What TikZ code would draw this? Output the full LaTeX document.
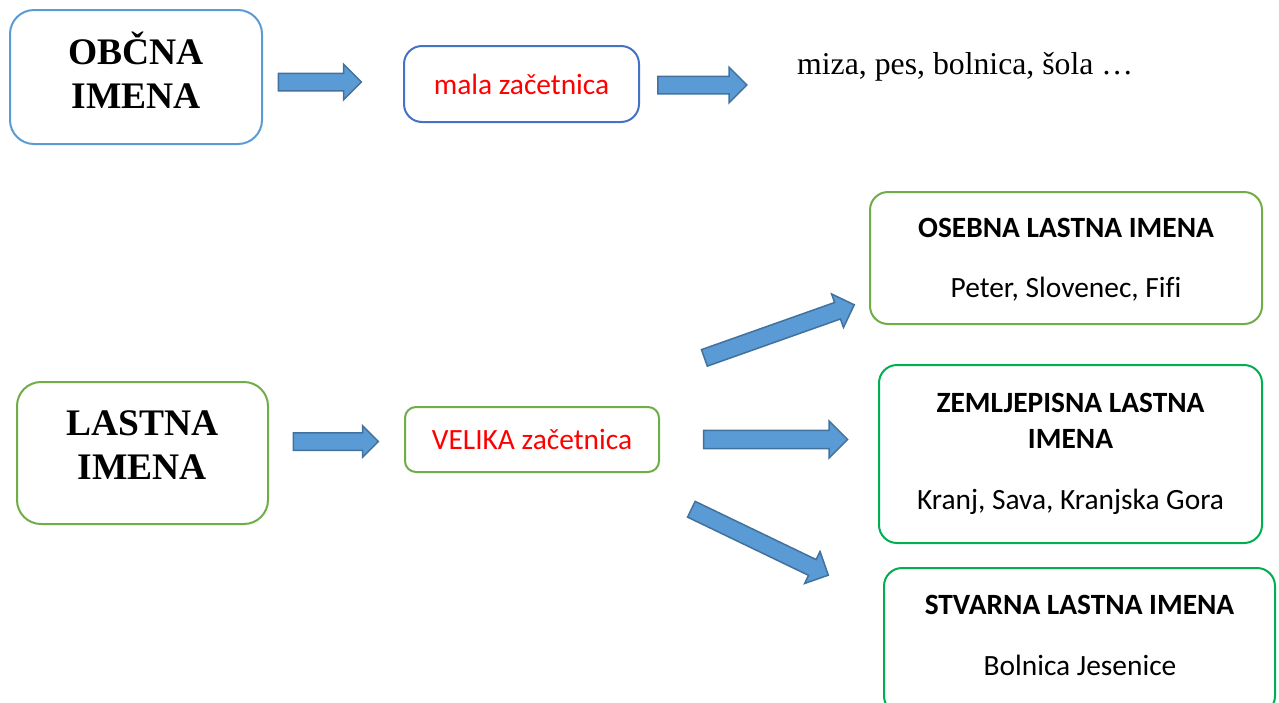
\documentclass[tikz,border=0pt]{standalone}
\usepackage{fontspec}
\setmainfont{Liberation Serif}
\newfontfamily\calfont[Ligatures=NoCommon]{Carlito}
\usetikzlibrary{shapes.arrows}
\definecolor{boxblue}{HTML}{5B9BD5}
\definecolor{darkblue}{HTML}{4472C4}
\definecolor{olive}{HTML}{70AD47}
\definecolor{brightgreen}{HTML}{00B050}
\definecolor{arrowfill}{HTML}{5B9BD5}
\definecolor{arrowline}{HTML}{41719C}
\tikzset{
  bigbox/.style={draw, line width=2pt, rounded corners=24pt, fill=white},
  midbox/.style={draw, line width=2pt, rounded corners=18pt, fill=white},
  smallbox/.style={draw, line width=2pt, rounded corners=11pt, fill=white},
  bigtext/.style={font=\fontsize{37.5}{44}\selectfont\bfseries, align=center, inner sep=0pt},
  redtext/.style={font=\calfont\fontsize{29.4}{34}\selectfont, text=red, inner sep=0pt},
  titletext/.style={font=\calfont\fontsize{29.4}{36}\selectfont\bfseries, align=center, inner sep=0pt},
  subtext/.style={font=\calfont\fontsize{29.4}{36}\selectfont, inner sep=0pt},
  blockarrow/.style={single arrow, draw=arrowline, fill=arrowfill, line width=1.5pt,
    inner sep=8pt, single arrow head extend=9pt, single arrow tip angle=90,
    minimum width=35pt, anchor=center}
}
\begin{document}
\begin{tikzpicture}[x=1pt,y=-1pt]
\useasboundingbox (0,0) rectangle (1279,702);
% boxes
\node[bigbox, draw=boxblue, minimum width=252pt, minimum height=134pt] (obcna) at (136,77) {};
\node[bigtext] (obcnat) at (136,70.5) {OBČNA\\IMENA};
\node[midbox, draw=darkblue, minimum width=235pt, minimum height=76pt, redtext] (mala) at (521.5,84) {mala začetnica};
\node[anchor=west, font=\fontsize{31.75}{36}\selectfont, inner sep=0pt] (primeri) at (797,67) {miza, pes, bolnica, šola \ldots};

\node[bigbox, draw=olive, minimum width=251pt, minimum height=142pt] (lastna) at (142.5,453) {};
\node[bigtext] (lastnat) at (142.5,445.5) {LASTNA\\IMENA};
\node[smallbox, draw=olive, minimum width=254pt, minimum height=65pt, redtext] (velika) at (532,439.5) {VELIKA začetnica};

\node[midbox, draw=olive, minimum width=392pt, minimum height=132pt] (osebna) at (1066,258) {};
\node[titletext] (osebnat) at (1066,228) {OSEBNA LASTNA IMENA};
\node[subtext] (osebnas) at (1066,289) {Peter, Slovenec, Fifi};

\node[midbox, draw=brightgreen, minimum width=383pt, minimum height=178pt] (zemlj) at (1070.5,454) {};
\node[titletext] (zemljt) at (1070.5,421) {ZEMLJEPISNA LASTNA\\IMENA};
\node[subtext] (zemljs) at (1070.5,502) {Kranj, Sava, Kranjska Gora};

\node[midbox, draw=brightgreen, minimum width=391pt, minimum height=146pt] (stvarna) at (1079.5,641) {};
\node[titletext] (stvarnat) at (1079.5,605) {STVARNA LASTNA IMENA};
\node[subtext] (stvarnas) at (1080,665) {Bolnica Jesenice};

% block arrows
\node[blockarrow, minimum height=83pt] (a1) at (315.5,82) {};
\node[blockarrow, minimum height=89pt, minimum width=33pt] (a2) at (698,85) {};
\node[blockarrow, minimum height=85pt, minimum width=30pt, single arrow head extend=7pt] (a3) at (331.5,441.5) {};
\node[blockarrow, minimum height=144pt, minimum width=37pt] (a4) at (771,439.5) {};
\node[blockarrow, minimum height=159pt, rotate=19.5] (a5) at (775.2,332.8) {};
\node[blockarrow, minimum height=152pt, rotate=-25.7] (a6) at (755.9,540.3) {};
\end{tikzpicture}
\end{document}
